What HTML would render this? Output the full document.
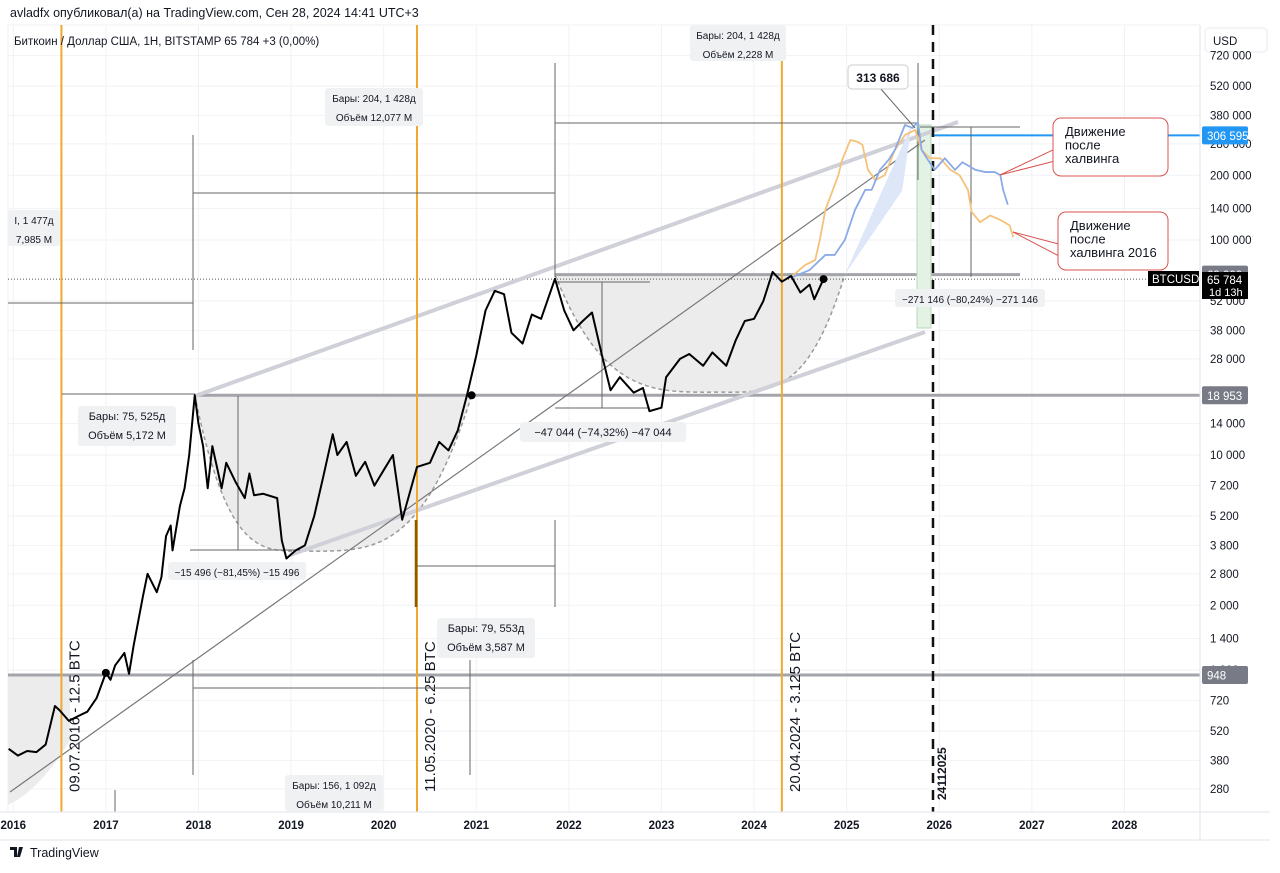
<!DOCTYPE html>
<html><head><meta charset="utf-8">
<style>
body{margin:0;background:#fff;font-family:"Liberation Sans","Noto Sans CJK SC",sans-serif;}
svg text{font-family:"Liberation Sans","Noto Sans CJK SC",sans-serif;}
</style></head>
<body>
<svg id="chart" width="1280" height="868" viewBox="0 0 1280 868" xmlns="http://www.w3.org/2000/svg">
<rect x="0" y="0" width="1280" height="868" fill="#fff"/>
<text x="10" y="17" font-size="12.5" fill="#131722">avladfx опубликовал(а) на TradingView.com, Сен 28, 2024 14:41 UTC+3</text>
<g id="grid"></g>
<g id="ann"></g>
<g id="series"></g>
<g id="over"></g>
<g id="axis"></g>
<text x="14" y="45" font-size="11.5" fill="#131722">Биткоин / Доллар США, 1H, BITSTAMP  65 784  +3 (0,00%)</text>
<g>
<path d="M10 847h7v10h-3v-7h-4z M19 847h4l-3 10h-3z" fill="#131722"/>
<text x="30" y="857" font-size="12.5" fill="#131722">TradingView</text>
</g>
</svg>
<script>
const NS="http://www.w3.org/2000/svg";
// ---- data ----
const priceDates=[2015.95,2016.05,2016.15,2016.25,2016.35,2016.45,2016.5,2016.6,2016.7,2016.8,2016.9,2017.0,2017.05,2017.1,2017.2,2017.25,2017.3,2017.4,2017.45,2017.55,2017.6,2017.65,2017.7,2017.72,2017.8,2017.85,2017.9,2017.96,2018.0,2018.05,2018.1,2018.15,2018.25,2018.3,2018.4,2018.5,2018.55,2018.6,2018.7,2018.85,2018.9,2018.95,2019.05,2019.15,2019.25,2019.35,2019.45,2019.5,2019.6,2019.7,2019.8,2019.9,2020.0,2020.1,2020.2,2020.36,2020.5,2020.6,2020.7,2020.8,2020.9,2021.0,2021.1,2021.2,2021.3,2021.38,2021.5,2021.6,2021.7,2021.85,2021.95,2022.05,2022.15,2022.25,2022.35,2022.45,2022.55,2022.7,2022.8,2022.87,2023.0,2023.05,2023.2,2023.3,2023.45,2023.55,2023.7,2023.8,2023.9,2024.0,2024.1,2024.2,2024.3,2024.4,2024.5,2024.6,2024.65,2024.75];
const priceValues=[430,400,420,415,450,680,650,580,610,640,740,970,900,1050,1200,960,1300,2200,2800,2300,2700,4200,4700,3600,5800,7000,10000,19000,14000,11000,7000,11000,7000,9200,7500,6300,8200,6500,6600,6300,4000,3300,3600,3800,5200,8000,12500,10000,11500,8000,9300,7200,8500,10000,5000,8800,9200,11500,10500,13000,19000,29000,47000,58000,56000,37000,33000,45000,43000,66000,47000,38000,42000,46000,30000,20000,23000,19500,20500,16000,16600,23000,28000,29500,26000,30000,26000,34000,42000,43000,52000,71000,64000,68000,57000,62000,53000,65784];
const orangeDates=[2024.39,2024.55,2024.66,2024.71,2024.77,2024.91,2024.95,2025.04,2025.12,2025.17,2025.23,2025.31,2025.41,2025.52,2025.63,2025.74,2025.81,2025.90,2026.01,2026.12,2026.22,2026.31,2026.35,2026.44,2026.55,2026.66,2026.76,2026.80];
const orangeValues=[66600,76500,80700,100000,138000,200000,235000,292000,286000,277000,212000,190000,200000,262000,308000,325000,262000,240000,240000,212000,200000,171000,135000,121000,130000,124000,117000,103000];
const blueDates=[2024.39,2024.60,2024.77,2024.87,2024.98,2025.09,2025.20,2025.27,2025.36,2025.45,2025.52,2025.63,2025.71,2025.77,2025.81,2025.88,2025.95,2026.06,2026.17,2026.25,2026.39,2026.50,2026.60,2026.66,2026.69,2026.74];
const blueValues=[66600,72500,85200,85200,100000,138000,171000,171000,212000,235000,262000,343000,332000,354000,262000,235000,212000,240000,212000,230000,212000,207000,207000,200000,171000,146000];
const tickValues=[720000,520000,380000,280000,200000,140000,100000,52000,38000,28000,14000,10000,7200,5200,3800,2800,2000,1400,1000,720,520,380,280];
const tickLabels=["720 000","520 000","380 000","280 000","200 000","140 000","100 000","52 000","38 000","28 000","14 000","10 000","7 200","5 200","3 800","2 800","2 000","1 400","1 000","720","520","380","280"];
const yearTicks=[2016,2017,2018,2019,2020,2021,2022,2023,2024,2025,2026,2027,2028];
const halvingDates=[2016.52,2020.36,2024.3];
const halvingLabels=["09.07.2016 - 12.5 BTC","11.05.2020 - 6.25 BTC","20.04.2024 - 3.125 BTC"];
// ---- scales ----
const X=t=>417+(t-2020.36)*92.6;
const Y=v=>240-(Math.log10(v)-5)*215;
const L=0,R=1200,T=25,B=812;
function el(tag,attrs,parent,txt){const e=document.createElementNS(NS,tag);for(const k in attrs)e.setAttribute(k,attrs[k]);if(txt!==undefined)e.textContent=txt;parent.appendChild(e);return e;}
const grid=document.getElementById('grid'),ann=document.getElementById('ann'),ser=document.getElementById('series'),over=document.getElementById('over'),axis=document.getElementById('axis');
// grid
el('rect',{x:8,y:25,width:1192,height:787,fill:'none',stroke:'#eef0f3'},grid);
tickValues.forEach(v=>{el('line',{x1:8,x2:R,y1:Y(v),y2:Y(v),stroke:'#f0f2f5'},grid);});
yearTicks.forEach(t=>{el('line',{x1:X(t),x2:X(t),y1:T,y2:B,stroke:'#f0f2f5'},grid);});
// cups fill
function cup(t1,t2,tb,vt,vb,name){const x1=X(t1),x2=X(t2),xb=X(tb),yt=Y(vt),yb=Y(vb);
 const d=`M${x1} ${yt} C ${x1+ (xb-x1)*0.3} ${yb+5}, ${xb-(xb-x1)*0.4} ${yb}, ${xb} ${yb} C ${xb+(x2-xb)*0.4} ${yb}, ${x2-(x2-xb)*0.3} ${yb+5}, ${x2} ${yt}`;
 const f=el('path',{d:d+'Z',fill:'#ececed'},ann);
 
 
 const c=el('path',{d:d,fill:'none',stroke:'#9a9a9a','stroke-width':1.5,'stroke-dasharray':'4 3'},ann);
 
 }
cup(2017.96,2020.95,2019.15,18953,3570,'cup-2018');
cup(2021.85,2024.98,2023.63,69000,19600,'cup-2022');
el('path',{d:`M8 676 L70 676 L70 740 Q40 790 8 805 Z`,fill:'#ececed'},ann);
// horizontal levels
function hl(x1,x2,v,stroke,w,name,dash){const l=el('line',{x1:x1,x2:x2,y1:Y(v),y2:Y(v),stroke:stroke,'stroke-width':w},ann);if(dash)l.setAttribute('stroke-dasharray',dash);
 
 }
hl(8,R,948,'#a3a5ab',3,'level-948');
hl(195,R,18953,'#a3a5ab',3,'level-18953');
hl(555,1020,69000,'#a3a5ab',3,'level-69000');
hl(8,1150,65784,'#555',1,'current-price-line','1 2');
hl(930,R,306595,'#2196f3',2,'level-306595');
// green rect
el('rect',{x:917,y:125,width:14,height:203,fill:'#e3f2e4',stroke:'#b5d9b7'},ann);
// wedge lines
const w1=el('line',{x1:195,y1:396,x2:958,y2:122,stroke:'#cfd0d8','stroke-width':4},ann);
const w2=el('line',{x1:290,y1:555,x2:925,y2:332,stroke:'#cfd0d8','stroke-width':4},ann);
const tl=el('line',{x1:10,y1:792,x2:925,y2:140,stroke:'#777','stroke-width':1.2},ann);
// halvings
halvingDates.forEach((t,i)=>{const l=el('line',{x1:X(t),x2:X(t),y1:T,y2:B,stroke:'#f0a830','stroke-width':2},ann);
 
 
 const tx=el('text',{x:0,y:0,'font-size':15,fill:'#131722',transform:`translate(${X(t)+18},${B-20}) rotate(-90)`},ann,halvingLabels[i]);
 
 });
const dl=el('line',{x1:933,x2:933,y1:T,y2:B,stroke:'#111','stroke-width':2.5,'stroke-dasharray':'10 7'},ann);
const dt=el('text',{x:0,y:0,'font-size':12,'font-weight':'bold',fill:'#131722',transform:`translate(946,800) rotate(-90)`},ann,'24112025');
// range/measure lines
const segs=[[555,123,918,123],[555,63,555,277],[193,135,193,350],[193,193,555,193],[8,303,193,303],[62,394,195,394],[417,566,555,566],[555,520,555,607],[193,660,193,775],[193,688,470,688],[470,660,470,775],[115,790,115,812],[238,396,238,550],[190,550,300,550],[602,282,602,408],[555,282,650,282],[555,408,650,408],[971,127,971,277],[920,127,1020,127],[918,63,918,180]];
segs.forEach(s=>{el('line',{x1:s[0],y1:s[1],x2:s[2],y2:s[3],stroke:'#666','stroke-width':1},ann);});
el('line',{x1:416,y1:520,x2:416,y2:607,stroke:'#8a5a00','stroke-width':2.5},ann);
// labels boxes
function box(x,y,w,h,lines,name,fs){const g=el('g',{},ann);
 el('rect',{x:x,y:y,width:w,height:h,rx:3,fill:'#f0f1f3'},g);
 lines.forEach((s,i)=>el('text',{x:x+w/2,y:y+14+i*19,'font-size':fs||10,'text-anchor':'middle',fill:'#131722'},g,s));}
box(325,88,98,38,['Бары: 204, 1 428д','Объём 12,077 M'],'range-2021');
box(690,25,96,36,['Бары: 204, 1 428д','Объём 2,228 M'],'range-2025');
box(78,406,98,40,['Бары: 75, 525д','Объём 5,172 M'],'range-2017',11);
box(437,618,98,40,['Бары: 79, 553д','Объём 3,587 M'],'range-2020',11);
box(285,775,98,36,['Бары: 156, 1 092д','Объём 10,211 M'],'range-2019');
box(8,210,52,36,['І, 1 477д','7,985 M'],'range-left');
box(168,562,138,18,['−15 496 (−81,45%) −15 496'],'drawdown-2018');
box(520,422,166,20,['−47 044 (−74,32%) −47 044'],'drawdown-2022',11);
box(895,289,150,18,['−271 146 (−80,24%) −271 146'],'drawdown-2026');
// projections
function poly(ds,vs,stroke,w,name,parent){const p=el('polyline',{points:ds.map((t,i)=>X(t)+','+Y(vs[i])).join(' '),fill:'none',stroke:stroke,'stroke-width':w,'stroke-linejoin':'round'},parent);
 
 }
el('polygon',{points:`${X(2024.98)},${Y(69000)} ${X(2025.7)},${Y(343000)} ${X(2025.6)},${Y(170000)}`,fill:'#dde7f8'},ser);
poly(orangeDates,orangeValues,'#f5c27a',1.8,'projection-2016',ser);
poly(blueDates,blueValues,'#8aaae8',1.8,'projection-2020',ser);
poly(priceDates,priceValues,'#000',2,'btc-price-line',ser);
[[2017.0,970],[2020.95,18953],[2024.75,65784]].forEach(p=>{const c=el('circle',{cx:X(p[0]),cy:Y(p[1]),r:4,fill:'#000'},ser);});
// callouts
function callout(x,y,w,h,lines,px,py,name){const g=el('g',{},over);
 el('line',{x1:x,y1:y+h*0.55,x2:px,y2:py,stroke:'#d9534f'},g);el('line',{x1:x,y1:y+h*0.75,x2:px,y2:py,stroke:'#d9534f'},g);
 el('rect',{x:x,y:y,width:w,height:h,rx:8,fill:'#fff',stroke:'#d9534f'},g);
 lines.forEach((s,i)=>el('text',{x:x+12,y:y+18+i*13.5,'font-size':13,fill:'#131722'},g,s));}
callout(1053,118,115,58,['Движение','после','халвинга'],1000,175,'callout-halving');
callout(1058,212,110,58,['Движение','после','халвинга 2016'],1013,232,'callout-halving-2016');
const pk=el('g',{},over);
el('line',{x1:880,y1:88,x2:915,y2:128,stroke:'#666'},pk);
el('rect',{x:848,y:65,width:60,height:24,rx:4,fill:'#fff',stroke:'#ccc'},pk);
el('text',{x:878,y:82,'font-size':12,'font-weight':'bold','text-anchor':'middle',fill:'#131722'},pk,'313 686');
// axis
el('rect',{x:R,y:0,width:80,height:868,fill:'#fff'},axis);
el('line',{x1:R,x2:R,y1:25,y2:840,stroke:'#e0e3eb'},axis);
el('line',{x1:0,x2:1270,y1:B,y2:B,stroke:'#e0e3eb'},axis);
el('line',{x1:0,x2:1270,y1:840,y2:840,stroke:'#e0e3eb'},axis);
const usd=el('g',{},axis);
el('rect',{x:1205,y:28,width:62,height:24,rx:4,fill:'#fff',stroke:'#e8eaee'},usd);
el('text',{x:1213,y:45,'font-size':11.5,fill:'#131722'},usd,'USD');
tickValues.forEach((v,i)=>{const y=Y(v);if(y<55)return;const t=el('text',{x:1210,y:y+4,'font-size':11.5,fill:'#131722'},axis,tickLabels[i]);
 
 });
yearTicks.forEach(t=>{const tx=el('text',{x:X(t),y:829,'font-size':11.5,'font-weight':'bold','text-anchor':'middle',fill:'#131722'},axis,String(t));
 
 });
function badge(v,txt,fill,name){const y=Y(v);const g=el('g',{},axis);
 el('rect',{x:1202,y:y-9,width:46,height:18,rx:2,fill:fill},g);el('text',{x:1207,y:y+4.5,'font-size':11.5,fill:'#fff'},g,txt);}
badge(306595,'306 595','#2196f3','badge-306595');
badge(69000,'69 000','#787b86','badge-69000');
badge(18953,'18 953','#787b86','badge-18953');
badge(948,'948','#787b86','badge-948');
const cp=el('g',{},axis);
el('rect',{x:1202,y:272,width:46,height:27,fill:'#000'},cp);
el('text',{x:1207,y:284,'font-size':11.5,fill:'#fff'},cp,'65 784');
el('text',{x:1209,y:296,'font-size':11,fill:'#fff'},cp,'1d 13h');
el('rect',{x:1148,y:271,width:51,height:15,fill:'#000'},cp);
el('text',{x:1152,y:283,'font-size':11.5,fill:'#fff'},cp,'BTCUSD');
</script>
</body></html>
